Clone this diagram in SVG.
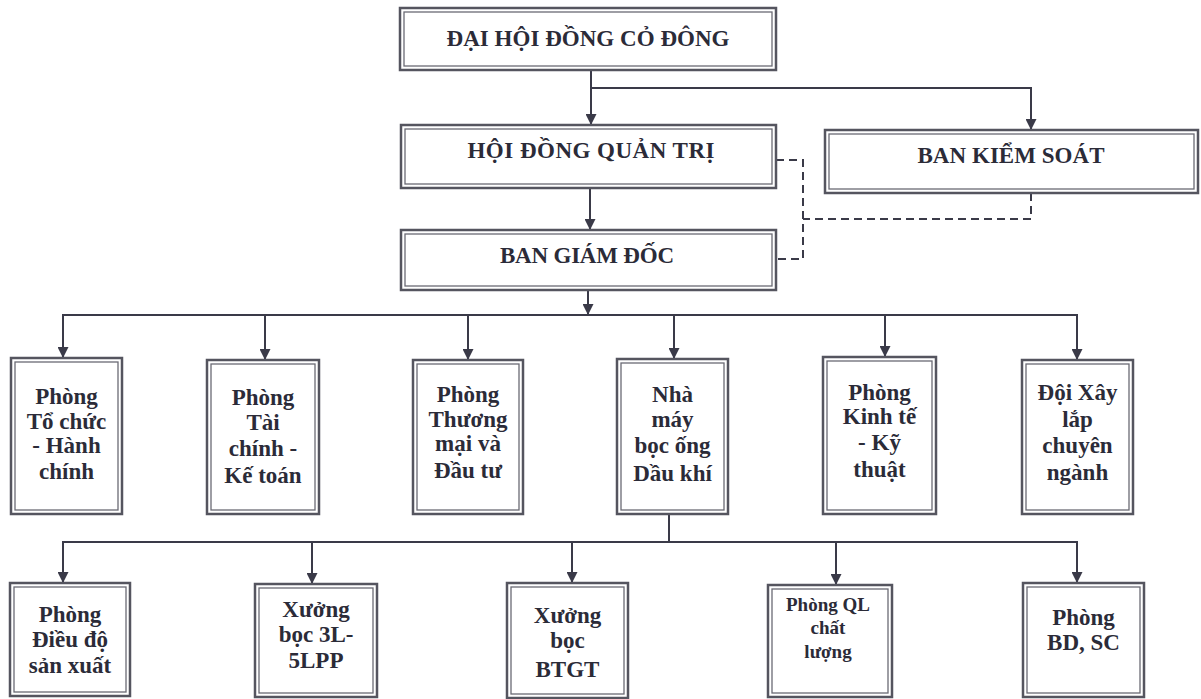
<svg xmlns="http://www.w3.org/2000/svg" width="1201" height="699" viewBox="0 0 1201 699">
<defs>
<marker id="arr" markerUnits="userSpaceOnUse" markerWidth="11" markerHeight="11" refX="11" refY="5.5" orient="auto">
<path d="M0,0 L11,5.5 L0,11 z" fill="#3a3a48"/>
</marker>
</defs>
<style>
.o{fill:#fff;stroke:#55555f;stroke-width:2.5}
.i{fill:none;stroke:#6a6a74;stroke-width:1.3}
.t{font-family:"Liberation Serif","Times New Roman",serif;font-weight:bold;fill:#2b2b38;text-anchor:middle}
.h{font-size:23px}
.m{font-size:23px}
.s{font-size:19px}
.c{fill:none;stroke:#3a3a48;stroke-width:2}
.d{fill:none;stroke:#3a3a48;stroke-width:2;stroke-dasharray:8 5}
</style>
<rect width="1201" height="699" fill="#fff"/>
<g id="connectors">
<path class="c" d="M591,70 V125" marker-end="url(#arr)"/>
<path class="c" d="M591,88 H1031 V130" marker-end="url(#arr)"/>
<path class="c" d="M590,188 V230" marker-end="url(#arr)"/>
<path class="d" d="M776,160 H803 V259 H776"/>
<path class="d" d="M1031,193 V219 H803"/>
<path class="c" d="M588,290 V315" marker-end="url(#arr)"/>
<path class="c" d="M63,358 V315 H1077 V360"/>
<path class="c" d="M63,315 V358" marker-end="url(#arr)"/>
<path class="c" d="M265,315 V360" marker-end="url(#arr)"/>
<path class="c" d="M468,315 V360" marker-end="url(#arr)"/>
<path class="c" d="M674,315 V359" marker-end="url(#arr)"/>
<path class="c" d="M885,315 V357" marker-end="url(#arr)"/>
<path class="c" d="M1077,315 V360" marker-end="url(#arr)"/>
<path class="c" d="M669,514 V542"/>
<path class="c" d="M63,583 V542 H1077 V583"/>
<path class="c" d="M63,542 V583" marker-end="url(#arr)"/>
<path class="c" d="M312,542 V584" marker-end="url(#arr)"/>
<path class="c" d="M572,542 V583" marker-end="url(#arr)"/>
<path class="c" d="M836,542 V585" marker-end="url(#arr)"/>
<path class="c" d="M1077,542 V583" marker-end="url(#arr)"/>
</g>
<g id="dhdcd">
<rect class="o" x="400" y="8" width="376" height="62"/>
<rect class="i" x="404" y="12" width="368" height="54"/>
<text class="t h" x="588" y="46" textLength="283" lengthAdjust="spacing">ĐẠI HỘI ĐỒNG CỎ ĐÔNG</text>
</g>
<g id="hdqt">
<rect class="o" x="401" y="125" width="375" height="63"/>
<rect class="i" x="405" y="129" width="367" height="55"/>
<text class="t h" x="591" y="158" textLength="247" lengthAdjust="spacing">HỘI ĐỒNG QUẢN TRỊ</text>
</g>
<g id="bks">
<rect class="o" x="825" y="130" width="373" height="63"/>
<rect class="i" x="829" y="134" width="365" height="55"/>
<text class="t h" x="1011" y="163" textLength="187" lengthAdjust="spacing">BAN KIỂM SOÁT</text>
</g>
<g id="bgd">
<rect class="o" x="401" y="230" width="375" height="60"/>
<rect class="i" x="405" y="234" width="367" height="52"/>
<text class="t h" x="587" y="263" textLength="174" lengthAdjust="spacing">BAN GIÁM ĐỐC</text>
</g>
<g id="p-tchc">
<rect class="o" x="11" y="358" width="111" height="156"/>
<rect class="i" x="15" y="362" width="103" height="148"/>
<text class="t m" x="66.5"><tspan x="66.5" y="404">Phòng</tspan><tspan x="66.5" y="429">Tổ chức</tspan><tspan x="66.5" y="453">- Hành</tspan><tspan x="66.5" y="479">chính</tspan></text>
</g>
<g id="p-tckt">
<rect class="o" x="207" y="360" width="112" height="154"/>
<rect class="i" x="211" y="364" width="104" height="146"/>
<text class="t m" x="263"><tspan x="263" y="405">Phòng</tspan><tspan x="263" y="430">Tài</tspan><tspan x="263" y="456">chính -</tspan><tspan x="263" y="483">Kế toán</tspan></text>
</g>
<g id="p-tmdt">
<rect class="o" x="413" y="360" width="110" height="154"/>
<rect class="i" x="417" y="364" width="102" height="146"/>
<text class="t m" x="468"><tspan x="468" y="402">Phòng</tspan><tspan x="468" y="427">Thương</tspan><tspan x="468" y="451">mại và</tspan><tspan x="468" y="478">Đầu tư</tspan></text>
</g>
<g id="nm-boc-ong">
<rect class="o" x="617" y="359" width="111" height="155"/>
<rect class="i" x="621" y="363" width="103" height="147"/>
<text class="t m" x="672.5"><tspan x="672.5" y="402">Nhà</tspan><tspan x="672.5" y="427">máy</tspan><tspan x="672.5" y="453">bọc ống</tspan><tspan x="672.5" y="481">Dầu khí</tspan></text>
</g>
<g id="p-ktkt">
<rect class="o" x="823" y="357" width="113" height="157"/>
<rect class="i" x="827" y="361" width="105" height="149"/>
<text class="t m" x="879.5"><tspan x="879.5" y="400">Phòng</tspan><tspan x="879.5" y="424">Kinh tế</tspan><tspan x="879.5" y="450">- Kỹ</tspan><tspan x="879.5" y="477">thuật</tspan></text>
</g>
<g id="doi-xl">
<rect class="o" x="1022" y="360" width="111" height="154"/>
<rect class="i" x="1026" y="364" width="103" height="146"/>
<text class="t m" x="1077.5"><tspan x="1077.5" y="400">Đội Xây</tspan><tspan x="1077.5" y="427">lắp</tspan><tspan x="1077.5" y="453">chuyên</tspan><tspan x="1077.5" y="480">ngành</tspan></text>
</g>
<g id="p-ddsx">
<rect class="o" x="10" y="583" width="120" height="113"/>
<rect class="i" x="14" y="587" width="112" height="105"/>
<text class="t m" x="70"><tspan x="70" y="622">Phòng</tspan><tspan x="70" y="647">Điều độ</tspan><tspan x="70" y="673">sản xuất</tspan></text>
</g>
<g id="x-3l">
<rect class="o" x="255" y="584" width="122" height="113"/>
<rect class="i" x="259" y="588" width="114" height="105"/>
<text class="t m" x="316"><tspan x="316" y="617">Xưởng</tspan><tspan x="316" y="642">bọc 3L-</tspan><tspan x="316" y="668">5LPP</tspan></text>
</g>
<g id="x-btgt">
<rect class="o" x="507" y="583" width="121" height="115"/>
<rect class="i" x="511" y="587" width="113" height="107"/>
<text class="t m" x="567.5"><tspan x="567.5" y="623">Xưởng</tspan><tspan x="567.5" y="648">bọc</tspan><tspan x="567.5" y="677">BTGT</tspan></text>
</g>
<g id="p-qlcl">
<rect class="o" x="768" y="585" width="124" height="112"/>
<rect class="i" x="772" y="589" width="116" height="104"/>
<text class="t s" x="828"><tspan x="828" y="611">Phòng QL</tspan><tspan x="828" y="634">chất</tspan><tspan x="828" y="658">lượng</tspan></text>
</g>
<g id="p-bdsc">
<rect class="o" x="1023" y="583" width="121" height="114"/>
<rect class="i" x="1027" y="587" width="113" height="106"/>
<text class="t m" x="1083.5"><tspan x="1083.5" y="625">Phòng</tspan><tspan x="1083.5" y="650">BD, SC</tspan></text>
</g>
</svg>
